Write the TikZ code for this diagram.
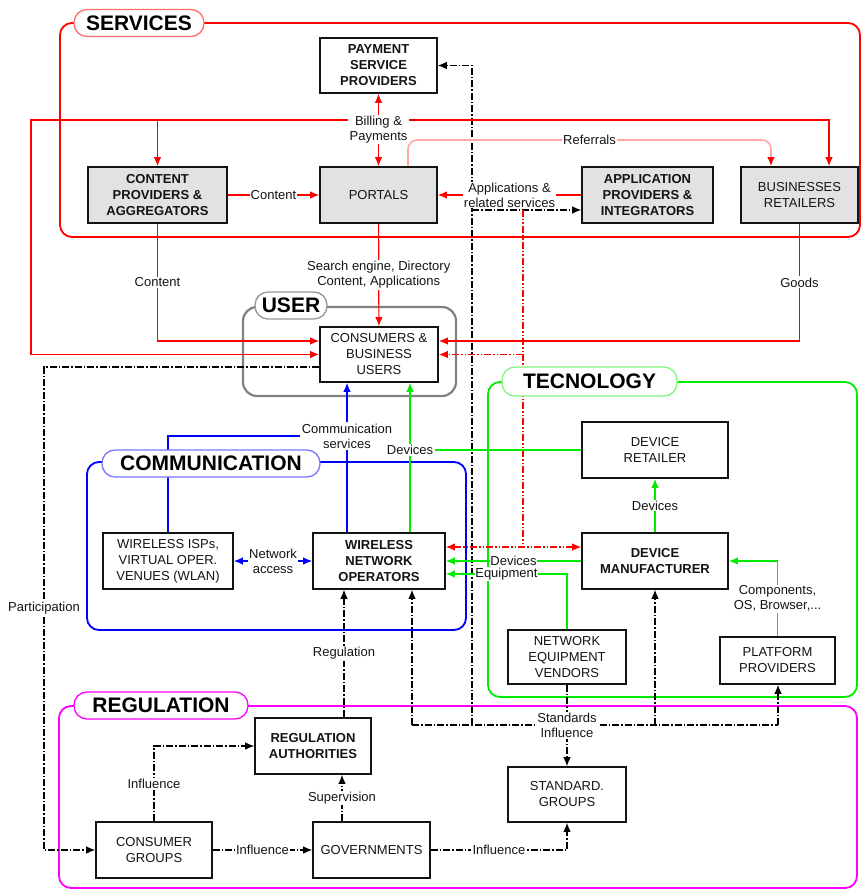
\documentclass[tikz,border=0pt]{standalone}
\usepackage{fontspec}
\setmainfont{Liberation Sans}
\usetikzlibrary{arrows.meta}

\definecolor{frRed}{RGB}{255,0,0}
\definecolor{tabRed}{RGB}{255,110,110}
\definecolor{refPink}{RGB}{255,165,165}
\definecolor{frGreen}{RGB}{0,235,0}
\definecolor{tabGreen}{RGB}{130,245,130}
\definecolor{frBlue}{RGB}{0,0,255}
\definecolor{tabBlue}{RGB}{120,120,255}
\definecolor{frMag}{RGB}{255,0,255}
\definecolor{frGray}{RGB}{128,128,128}
\definecolor{tabGray}{RGB}{150,150,150}
\definecolor{boxGray}{RGB}{226,226,226}
\definecolor{ink}{RGB}{20,20,20}

\newcommand{\bxfont}{\fontsize{13}{16}\selectfont}
\newcommand{\lbfont}{\fontsize{13}{15}\selectfont}
\newcommand{\tbfont}{\fontsize{21}{24}\selectfont\bfseries}

\begin{document}
\begin{tikzpicture}[x=1pt,y=-1pt,
  >={Latex[length=9pt,width=7.5pt]},
  frame/.style={line width=1.8pt, rounded corners=12pt},
  box/.style={draw=ink, line width=1.6pt, fill=white, align=center,
    inner sep=0pt, font=\bxfont, text=ink},
  bbox/.style={box, font=\bxfont\bfseries},
  gbox/.style={box, fill=boxGray},
  gbbox/.style={bbox, fill=boxGray},
  grouptab/.style={draw=#1, line width=1.3pt, fill=white, rounded corners=13pt,
    minimum height=27pt, inner sep=0pt, font=\tbfont, text=black},
  lbl/.style={fill=white, inner sep=1.2pt, align=center, font=\lbfont, text=ink},
  rl/.style={draw=frRed, line width=1.2pt},
  refl/.style={draw=refPink, line width=1.6pt},
  rd/.style={draw=frRed, line width=1.2pt,
    dash pattern=on 7pt off 2pt on 1.5pt off 2pt on 1.5pt off 2pt},
  bd/.style={draw=black, line width=1.1pt,
    dash pattern=on 7pt off 2pt on 1.5pt off 2pt},
  bl/.style={draw=frBlue, line width=1.3pt},
  gl/.style={draw=frGreen, line width=1.3pt}]

\useasboundingbox (0,0) rectangle (862,890);

% group frames
\draw[frame, draw=frRed] (60,23) rectangle (860,237);
\draw[frame, draw=frGray, line width=2.2pt, rounded corners=14pt] (243,307) rectangle (456,396);
\draw[frame, draw=frGreen] (488,382) rectangle (857,697);
\draw[frame, draw=frBlue] (87,462) rectangle (466,630);
\draw[frame, draw=frMag] (59,706) rectangle (857,888);

% actors
\node[bbox, minimum width=117pt, minimum height=55pt] (pay) at (378.5,65.5) {PAYMENT\\SERVICE\\PROVIDERS};
\node[gbbox, minimum width=139pt, minimum height=56pt] (cp) at (157.5,195) {CONTENT\\PROVIDERS \&\\AGGREGATORS};
\node[gbox, minimum width=117pt, minimum height=56pt] (portals) at (378.5,195) {PORTALS};
\node[gbbox, minimum width=131pt, minimum height=56pt] (app) at (647.5,195) {APPLICATION\\PROVIDERS \&\\INTEGRATORS};
\node[gbox, minimum width=117pt, minimum height=56pt] (biz) at (799.5,195) {BUSINESSES\\RETAILERS};
\node[box, minimum width=118pt, minimum height=55pt] (cons) at (379,354.5) {CONSUMERS \&\\BUSINESS\\USERS};
\node[box, minimum width=146pt, minimum height=56pt] (dr) at (655,450) {DEVICE\\RETAILER};
\node[bbox, minimum width=146pt, minimum height=56pt] (dm) at (655,561) {DEVICE\\MANUFACTURER};
\node[box, minimum width=130pt, minimum height=56pt] (wisp) at (168,561) {WIRELESS ISPs,\\VIRTUAL OPER.\\VENUES (WLAN)};
\node[bbox, minimum width=132pt, minimum height=56pt] (wno) at (379,561) {WIRELESS\\NETWORK\\OPERATORS};
\node[box, minimum width=118pt, minimum height=54pt] (nev) at (567,657) {NETWORK\\EQUIPMENT\\VENDORS};
\node[box, minimum width=115pt, minimum height=47pt] (plat) at (777.5,660.5) {PLATFORM\\PROVIDERS};
\node[bbox, minimum width=116pt, minimum height=56pt] (ra) at (313,746) {REGULATION\\AUTHORITIES};
\node[box, minimum width=116pt, minimum height=56pt] (cg) at (154,850) {CONSUMER\\GROUPS};
\node[box, minimum width=117pt, minimum height=56pt] (gov) at (371.5,850) {GOVERNMENTS};
\node[box, minimum width=118pt, minimum height=55pt] (sg) at (567,794.5) {STANDARD.\\GROUPS};

% junction points
\coordinate (stdL) at (412,725);
\coordinate (stdDM) at (655,725);
\coordinate (stdR) at (778,725);
\coordinate (payJ) at (472,725);
\coordinate (payC) at (472,65.5);
\coordinate (appJ) at (472,210);
\coordinate (billJ) at (378.5,120);
\coordinate (billL) at (31,120);
\coordinate (refA) at (408,140);
\coordinate (refB) at (771,140);
\coordinate (rdTop) at (523,210);
\coordinate (rdBot) at (523,547);
\coordinate (rdMid) at (523,354.5);
\coordinate (partT) at (44,367);
\coordinate (partB) at (44,850);

% standards and payment links (dash-dot)
\draw[bd] (stdL) -- (stdR);
\draw[bd,->] (stdL) -- ([xshift=33pt]wno.south);
\draw[bd,->] (stdDM) -- (dm.south);
\draw[bd,->] (stdR) -- ([xshift=0.5pt]plat.south);
\draw[bd,->] (payJ) -- (payC) -- (pay.east);
\draw[bd,->] (appJ) -- ([yshift=-15pt]app.west);
\draw[bd,->] (nev.south) -- node[lbl]{Standards\\Influence} (sg.north);

% service flows
\draw[rl,->] (billJ) -| (cp.north);
\draw[rl,->] (billJ) -| ([xshift=29.5pt]biz.north);
\draw[rl,->] (billJ) -- (billL) |- (cons.west);
\node[lbl] (bill) at (378.5,129.5) {Billing \&\\Payments};
\draw[rl,->] (bill) -- (pay);
\draw[rl,->] (bill) -- (portals);
\draw[rl,->] (cp) -- node[lbl]{Content} (portals);
\draw[rl,->] (cp.south) |- node[lbl,pos=0.25]{Content} ([yshift=13.5pt]cons.west);
\draw[rl,->] (portals) -- node[lbl]{Search engine, Directory\\Content, Applications} (cons);
\draw[rl,->] (app) -- node[lbl]{Applications \&\\related services} (portals);
\draw[rl,->] (biz.south) |- node[lbl,pos=0.25]{Goods} ([yshift=13.5pt]cons.east);
\draw[refl, rounded corners=9pt, -{Latex[length=9pt,width=7.5pt,color=frRed]}]
  ([xshift=29.5pt]portals.north) -- (refA) -- node[lbl]{Referrals} (refB) -- ([xshift=-28.5pt]biz.north);

% application delivery (dash-dot red)
\draw[rd] (rdTop) -- (rdBot);
\draw[rd,->] (rdMid) -- (cons.east);
\draw[rd,<->] ([yshift=14pt]wno.east) -- ([yshift=14pt]dm.west);

% regulation side
\draw[bd,->] ([yshift=-12.5pt]cons.west) -- (partT) -- node[lbl]{Participation} (partB) -- (cg.west);
\draw[bd,->] ([xshift=31pt]ra.north) -- node[lbl]{Regulation} ([xshift=-35pt]wno.south);
\draw[bd,->] (cg.north) |- node[lbl,pos=0.25]{Influence} (ra.west);
\draw[bd,->] (cg) -- node[lbl]{Influence} (gov);
\draw[bd,->] ([xshift=-29.5pt]gov.north) -- node[lbl]{Supervision} ([xshift=29pt]ra.south);
\draw[bd,->] (gov.east) -| node[lbl,pos=0.25]{Influence} (sg.south);

% communication flows
\node[lbl] (commlbl) at (347,436) {Communication\\services};
\draw[bl] ([xshift=-32pt]wno.north) -- (commlbl);
\draw[bl,->] (commlbl) -- ([xshift=-32pt]cons.south);
\draw[bl] (wisp.north) |- (commlbl.west);
\draw[bl,<->] (wisp) -- node[lbl]{Network\\access} (wno);

% technology flows
\node[lbl] (devlbl) at (410,450) {Devices};
\draw[gl,->] (devlbl) -- ([xshift=31pt]cons.south);
\draw[gl] ([xshift=31pt]wno.north) -- (devlbl);
\draw[gl] (devlbl) -- (dr.west);
\draw[gl,->] (dm) -- node[lbl]{Devices} (dr);
\draw[gl,->] (dm) -- node[lbl, inner sep=0.6pt]{Devices} (wno);
\draw[gl,->] (nev.north) |- node[lbl,pos=0.75, inner sep=0.6pt]{Equipment} ([yshift=-13pt]wno.east);
\draw[gl,->] (plat.north) |- node[lbl,pos=0.25]{Components,\\OS, Browser,...} (dm.east);

% group tabs
\node[grouptab=tabRed, minimum width=130pt] (tsrv) at (139,23) {SERVICES};
\node[grouptab=tabGray, minimum width=72pt] (tusr) at (291,305.5) {USER};
\node[grouptab=tabGreen, minimum width=175pt, minimum height=29pt] (ttec) at (589.5,381.5) {TECNOLOGY};
\node[grouptab=tabBlue, minimum width=218pt] (tcom) at (211,463.5) {COMMUNICATION};
\node[grouptab=frMag, minimum width=174pt] (treg) at (161,705.5) {REGULATION};

\end{tikzpicture}
\end{document}
